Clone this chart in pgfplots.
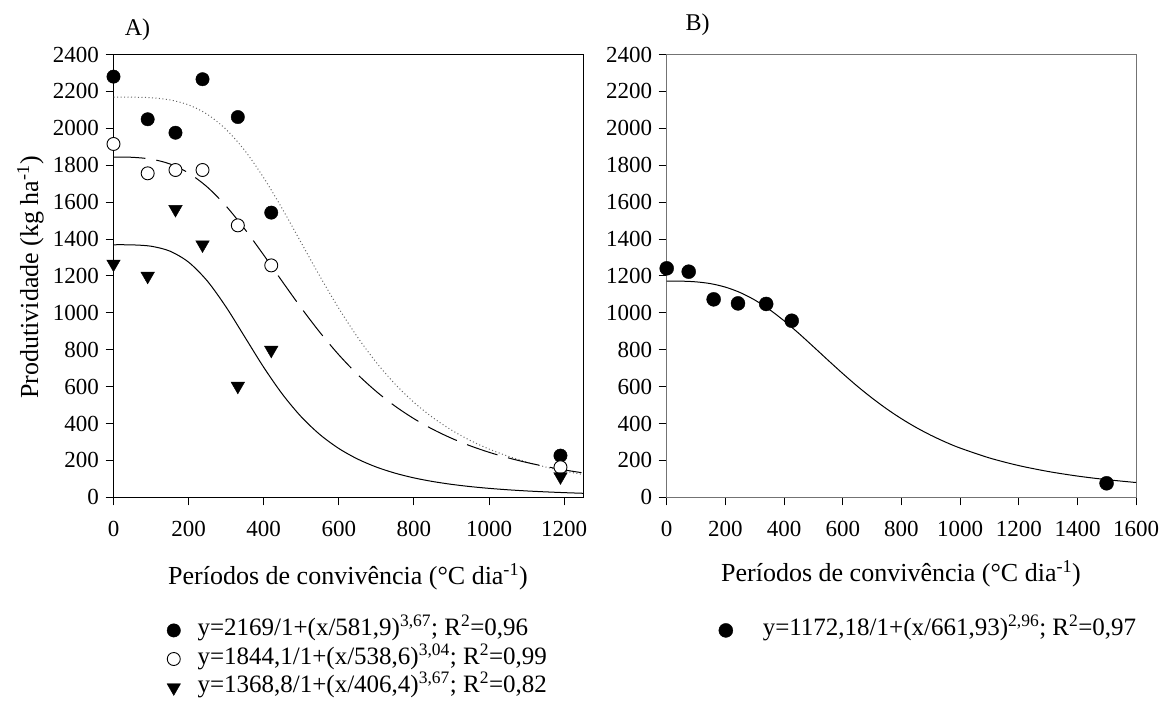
\documentclass[border=0pt]{standalone}
\usepackage{fontspec}
\setmainfont{Liberation Serif}
\usepackage{pgfplots}
\pgfplotsset{compat=1.18}
\pgfplotsset{
  panel/.style={
    scale only axis, width=469.5bp, height=442.8bp,
    ymin=0, ymax=2400, ytick={0,200,...,2400},
    tick align=outside, xtick pos=bottom, ytick pos=left,
    major tick length=8bp,
    axis line style={line width=1bp},
    tick style={line width=1bp, black},
    /pgf/number format/assume math mode=true,
    /pgf/number format/1000 sep={},
    tick label style={font=\fontsize{23bp}{27bp}\selectfont},
    xticklabel style={yshift=-8bp},
    yticklabel style={xshift=1bp},
    clip=false,
    legend cell align=left,
    legend image code/.code={\draw[#1,mark repeat=2,mark phase=2] plot coordinates {(-8bp,0bp)(0bp,0bp)(8bp,0bp)};},
  }
}
\begin{document}
\fontsize{22bp}{26bp}\selectfont
\begin{tikzpicture}
\path[use as bounding box] (0bp,0bp) rectangle (1163bp,-711bp);

% ---------------- Panel A ----------------
\begin{axis}[panel, at={(113.5bp,-497.3bp)}, anchor=south west,
  xmin=0, xmax=1250, xtick={0,200,...,1200},
  legend style={draw=none, fill=none, at={(0.114,-0.278)}, anchor=north west,
    inner sep=0pt, outer sep=0pt, row sep=8.6bp, column sep=17bp,
    nodes={inner sep=0pt, text height=15bp, text depth=5bp},
    font=\fontsize{25bp}{29bp}\selectfont}]
% fitted curves
\addplot[forget plot, black!60, line width=1bp, dash pattern=on 1bp off 2.5bp, smooth] coordinates {
(0,2169)(50,2168.7)(100,2165.6)(150,2154.1)(200,2126.8)(250,2075.5)(300,1993.6)(350,1878.3)
(400,1731.5)(450,1561.5)(500,1378.8)(550,1196.4)(600,1023.6)(650,867.2)(700,730.2)(750,613.0)
(800,514.4)(850,432.3)(900,364.2)(950,307.9)(1000,261.4)(1050,223.1)(1100,191.1)(1150,164.5)
(1200,142.3)(1250,123.6)};
\addplot[forget plot, black, line width=1bp, dash pattern=on 32bp off 11bp, smooth] coordinates {
(0,1844.1)(50,1842.8)(100,1833.1)(150,1807.0)(200,1757.6)(250,1681.1)(300,1577.8)(350,1452.4)
(400,1312.7)(450,1167.9)(500,1025.9)(550,892.8)(600,772.1)(650,665.5)(700,573.0)(750,493.6)
(800,426.0)(850,368.6)(900,320.0)(950,278.8)(1000,243.9)(1050,214.2)(1100,188.8)(1150,167.1)
(1200,148.5)(1250,132.4)};
\addplot[forget plot, black, line width=1bp, smooth] coordinates {
(0,1368.8)(50,1368.2)(100,1360.9)(150,1334.4)(200,1274.4)(250,1171.8)(300,1030.6)(350,867.6)
(400,704.4)(450,558.0)(500,436.0)(550,339.2)(600,264.4)(650,207.3)(700,163.8)(750,130.7)
(800,105.2)(850,85.6)(900,70.2)(950,58.1)(1000,48.5)(1050,40.8)(1100,34.5)(1150,29.5)
(1200,25.3)(1250,21.8)};
% observed data
\addplot[only marks, mark=*, mark size=6.7bp, mark options={fill=black, draw=black}] coordinates {
(0,2280)(91,2049)(165,1976)(237,2266)(331,2061)(420,1543)(1190,226)};
\addlegendentry{y=2169/1+(x/581,9)\textsuperscript{3,67}; R\textsuperscript{2}=0,96}
\addplot[only marks, mark=*, mark size=6.5bp, mark options={fill=white, draw=black, line width=0.9bp}] coordinates {
(0,1915)(91,1756)(165,1774)(237,1774)(331,1474)(420,1257)(1190,163)};
\addlegendentry{y=1844,1/1+(x/538,6)\textsuperscript{3,04}; R\textsuperscript{2}=0,99}
\addplot[only marks, mark=triangle*, mark size=7.8bp, mark options={rotate=180, fill=black, draw=black}] coordinates {
(0,1265)(91,1199)(165,1561)(237,1369)(331,603)(420,798)(1190,112)};
\addlegendentry{y=1368,8/1+(x/406,4)\textsuperscript{3,67}; R\textsuperscript{2}=0,82}
\end{axis}

% ---------------- Panel B ----------------
\begin{axis}[panel, at={(666.7bp,-497.3bp)}, anchor=south west,
  xmin=0, xmax=1600, xtick={0,200,...,1600},
  y axis line style={black!55},
  legend style={draw=none, fill=none, at={(0.111,-0.278)}, anchor=north west,
    inner sep=0pt, outer sep=0pt, row sep=8.6bp, column sep=30bp,
    nodes={inner sep=0pt, text height=15bp, text depth=5bp},
    font=\fontsize{25bp}{29bp}\selectfont}]
\addplot[forget plot, black, line width=1bp, smooth] coordinates {
(0,1172.18)(50,1171.6)(100,1167.8)(150,1157.9)(200,1139.2)(250,1110.0)(300,1069.4)(350,1017.8)
(400,956.8)(450,888.6)(500,816.3)(550,742.8)(600,670.7)(650,601.6)(700,537.7)(750,478.9)
(800,425.9)(850,378.5)(900,336.5)(950,299.4)(1000,266.9)(1100,213.2)(1200,171.9)(1300,140.0)
(1400,115.1)(1500,95.6)(1600,80.1)};
\addplot[only marks, mark=*, mark size=7bp, mark options={fill=black, draw=black}] coordinates {
(0,1241)(75,1223)(160,1073)(243,1051)(339,1048)(426,957)(1499,76)};
\addlegendentry{y=1172,18/1+(x/661,93)\textsuperscript{2,96}; R\textsuperscript{2}=0,97}
\end{axis}

% ---------------- Texts ----------------
\node[anchor=base, inner sep=0pt, font=\fontsize{24bp}{28bp}\selectfont] at (137.5bp,-35bp) {A)};
\node[anchor=base, inner sep=0pt, font=\fontsize{24bp}{28bp}\selectfont] at (697.5bp,-30bp) {B)};
\node[rotate=90, anchor=base, inner sep=0pt, font=\fontsize{26bp}{30bp}\selectfont] at (38bp,-277.5bp) {Produtividade (kg ha\textsuperscript{-1})};
\node[anchor=base, inner sep=0pt, font=\fontsize{26bp}{30bp}\selectfont] at (348bp,-584bp) {Períodos de convivência (°C dia\textsuperscript{-1})};
\node[anchor=base, inner sep=0pt, font=\fontsize{26bp}{30bp}\selectfont] at (901bp,-581bp) {Períodos de convivência (°C dia\textsuperscript{-1})};
\end{tikzpicture}
\end{document}
